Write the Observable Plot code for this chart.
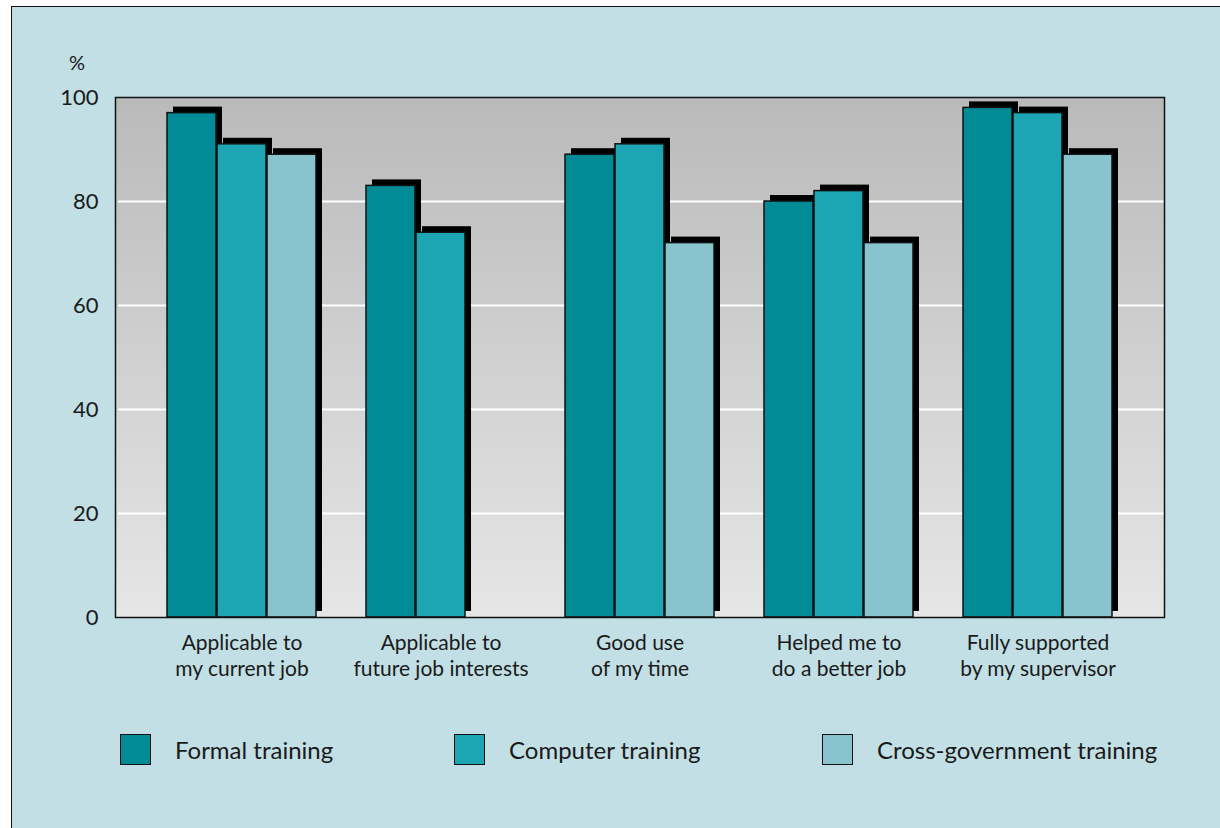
<!DOCTYPE html>
<html>
<head>
<meta charset="utf-8">
<script src="https://cdn.jsdelivr.net/npm/d3@7"></script>
<script src="https://cdn.jsdelivr.net/npm/@observablehq/plot@0.6"></script>
<style>
  html, body { margin: 0; padding: 0; background: #ffffff; overflow: hidden; }
  #page {
    position: absolute; left: 11px; top: 6px; width: 1230px; height: 840px;
    background: #c1dfe4; border: 1px solid #111; box-sizing: border-box;
  }
  #chart { position: absolute; left: -12px; top: -7px; }
  #pct { position: absolute; left: 57px; top: 43px; font: 20px Lato, sans-serif; color: #1a1a1a; }
  .leg { position: absolute; top: 727px; display: flex; align-items: center; font: 24px Lato, sans-serif; color: #1a1a1a; }
  .sw { width: 29px; height: 29px; border: 1.5px solid #111; margin-right: 24px; }
</style>
</head>
<body>
<div id="page">
  <div id="chart"></div>
  <div id="pct">%</div>
  <div id="legend"></div>
</div>
<script>
const categories = [
  "Applicable to\nmy current job",
  "Applicable to\nfuture job interests",
  "Good use\nof my time",
  "Helped me to\ndo a better job",
  "Fully supported\nby my supervisor"
];
const seriesNames = ["Formal training", "Computer training", "Cross-government training"];
const formal = [97, 83, 89, 80, 98];
const computer = [91, 74, 91, 82, 97];
const crossGov = [89, null, 72, 72, 89];
const yTicks = [0, 20, 40, 60, 80, 100];
const gridValues = [20, 40, 60, 80];
const colors = ["#008b96", "#1ca6b3", "#88c4ce"];

const seriesValues = [formal, computer, crossGov];
const rows = seriesValues.map((vals, s) =>
  categories.map((c, i) => ({category: c, series: seriesNames[s], value: vals[i]}))
    .filter(d => d.value != null)
);

const third = 50; // a bar is one third of each 150px band
const insets = [
  {insetLeft: 0, insetRight: 2 * third},
  {insetLeft: third, insetRight: third},
  {insetLeft: 2 * third, insetRight: 0}
];

const shadows = rows.map((data, s) => Plot.barY(data, {
  x: "category", y: "value", fill: "#000", dx: 6, dy: -6, ...insets[s]
}));
const bars = rows.map((data, s) => Plot.barY(data, {
  x: "category", y: "value", fill: colors[s], stroke: "#111", strokeWidth: 1.5, ...insets[s]
}));

const chart = Plot.plot({
  width: 1220,
  height: 700,
  marginLeft: 115,
  marginRight: 56,
  marginTop: 97,
  marginBottom: 83,
  style: {background: "transparent", color: "#1a1a1a", fontFamily: "Lato, sans-serif"},
  x: {domain: categories, padding: 0.25, label: null},
  y: {domain: [0, 100], label: null},
  marks: [
    Plot.frame({fill: "url(#plotbg)"}),
    Plot.ruleY(gridValues, {stroke: "#ffffff", strokeWidth: 2, insetLeft: 3}),
    ...shadows,
    ...bars,
    Plot.frame({stroke: "#111", strokeWidth: 1.5}),
    Plot.axisY(yTicks, {tickSize: 0, tickPadding: 17, fontSize: 22, tickFormat: d => d}),
    Plot.axisX({tickSize: 0, tickPadding: 14, fontSize: 21, lineHeight: 1.24, tickFormat: d => d})
  ]
});

const ns = "http://www.w3.org/2000/svg";
const defs = document.createElementNS(ns, "defs");
defs.innerHTML = '<linearGradient id="plotbg" x1="0" y1="0" x2="0" y2="1">' +
  '<stop offset="0" stop-color="#bababa"/><stop offset="1" stop-color="#e6e6e6"/></linearGradient>';
chart.insertBefore(defs, chart.firstChild);
document.getElementById("chart").appendChild(chart);

const legend = document.getElementById("legend");
const legendLeft = [108, 442, 810];
seriesNames.forEach((name, i) => {
  const item = document.createElement("div");
  item.className = "leg";
  item.style.left = legendLeft[i] + "px";
  item.innerHTML = `<div class="sw" style="background:${colors[i]}"></div><span>${name}</span>`;
  legend.appendChild(item);
});
</script>
</body>
</html>
